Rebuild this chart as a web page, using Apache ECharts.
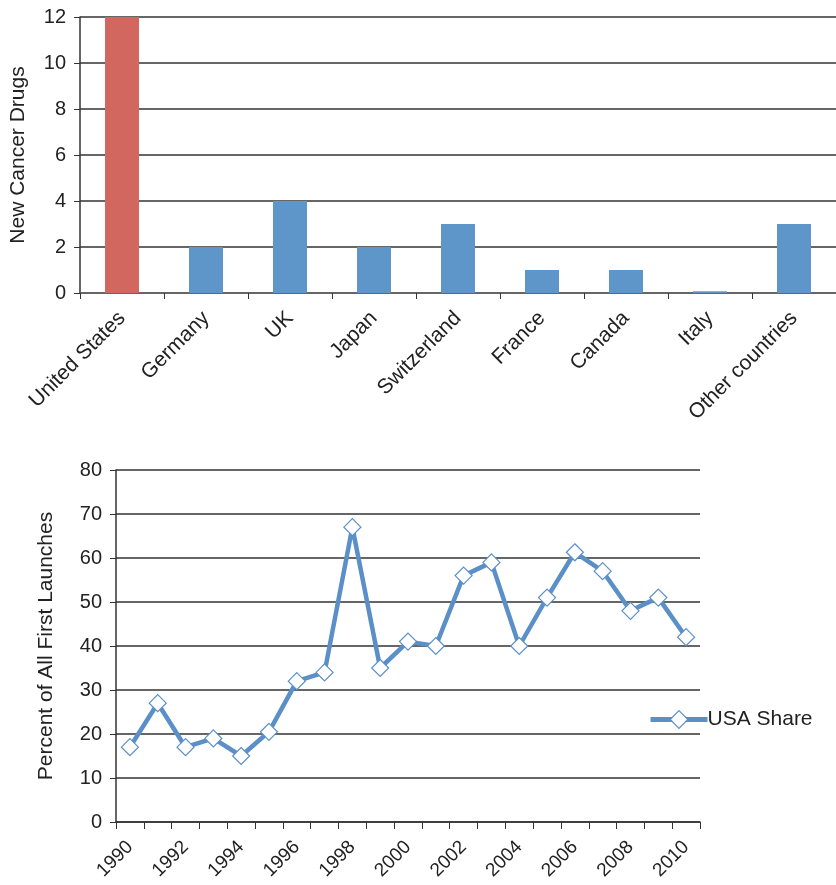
<!DOCTYPE html>
<html><head><meta charset="utf-8">
<script src="https://cdn.jsdelivr.net/npm/echarts@6/dist/echarts.min.js"></script>
<style>html,body{margin:0;padding:0;background:#fff}#c{width:836px;height:885px}</style>
</head><body><div id="c"></div>
<script>
const countries = ['United States','Germany','UK','Japan','Switzerland','France','Canada','Italy','Other countries'];
const drugCounts = [12, 2, 4, 2, 3, 1, 1, 0.08, 3];
const barYTicks = [0, 2, 4, 6, 8, 10, 12];
const years = ['1990','1991','1992','1993','1994','1995','1996','1997','1998','1999','2000','2001','2002','2003','2004','2005','2006','2007','2008','2009','2010'];
const usaShare = [17, 27, 17, 19, 15, 20.5, 32, 34, 67, 35, 41, 40, 56, 59, 40, 51, 61.3, 57, 48, 51, 42];

const FONT = 'Liberation Sans';
const TXT = '#222';
const BLUE = '#5b8fc8';
const chart = echarts.init(document.getElementById('c'), null, {renderer:'canvas'});
chart.setOption({
  animation: false,
  textStyle: {fontFamily: FONT},
  legend: {
    data: ['USA Share'], left: 643, top: 704, orient: 'vertical',
    itemWidth: 57, itemHeight: 22, itemGap: 6,
    lineStyle: {width: 5, color: BLUE},
    itemStyle: {color: '#fff', borderColor: BLUE, borderWidth: 1.2},
    textStyle: {fontFamily: FONT, fontSize: 21, color: TXT, padding:[0,0,0,-5]}
  },
  grid: [
    {left: 78, right: -6, top: 17, bottom: 592, containLabel: false},
    {left: 116, right: 136, top: 470, bottom: 63, containLabel: false}
  ],
  xAxis: [
    {type: 'category', gridIndex: 0, data: countries,
     axisLine: {lineStyle: {color: '#666', width: 2}},
     axisTick: {show: true, length: 6, alignWithLabel: false, lineStyle:{color:'#333'}},
     axisLabel: {rotate: 45, fontSize: 21, color: TXT, margin: 22, interval: 0}},
    {type: 'category', gridIndex: 1, data: years,
     axisLine: {lineStyle: {color: '#333', width: 1.5}},
     axisTick: {show: true, length: 7, interval: 0, lineStyle:{color:'#333'}},
     axisLabel: {rotate: 45, fontSize: 19, color: TXT, margin: 22, interval: 1}}
  ],
  yAxis: [
    {type: 'value', gridIndex: 0, min: 0, max: 12, interval: 2,
     name: 'New Cancer Drugs', nameLocation: 'middle', nameGap: 51,
     nameTextStyle: {fontSize: 21, color: TXT},
     axisLine: {show: true, lineStyle: {color: '#333', width: 1.5}},
     axisTick: {show: true, length: 6, lineStyle:{color:'#333'}},
     axisLabel: {fontSize: 20, color: TXT, margin: 14},
     splitLine: {lineStyle: {color: '#333', width: 1.5}}},
    {type: 'value', gridIndex: 1, min: 0, max: 80, interval: 10,
     name: 'Percent of All First Launches', nameLocation: 'middle', nameGap: 59,
     nameTextStyle: {fontSize: 21, color: TXT},
     axisLine: {show: true, lineStyle: {color: '#333', width: 1.5}},
     axisTick: {show: true, length: 6, lineStyle:{color:'#333'}},
     axisLabel: {fontSize: 20, color: TXT, margin: 14},
     splitLine: {lineStyle: {color: '#333', width: 1.5}}}
  ],
  series: [
    {type: 'bar', xAxisIndex: 0, yAxisIndex: 0, barWidth: 34,
     data: drugCounts.map((v, i) => ({value: v, itemStyle: {color: i === 0 ? '#d1675f' : '#5f96c9'}}))},
    {type: 'line', name: 'USA Share', xAxisIndex: 1, yAxisIndex: 1, data: usaShare,
     symbol: 'diamond', symbolSize: 17, showAllSymbol: true,
     lineStyle: {color: BLUE, width: 4.5},
     itemStyle: {color: '#fff', borderColor: BLUE, borderWidth: 1.2}}
  ]
});
</script></body></html>
